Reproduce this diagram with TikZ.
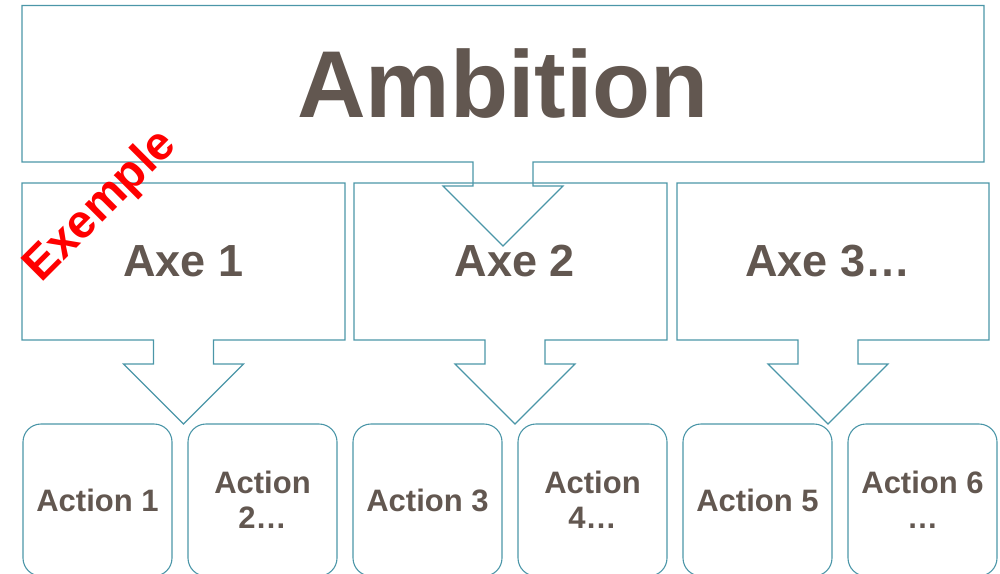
\documentclass[tikz,border=0pt]{standalone}
\usepackage{fontspec}
\setmainfont{Liberation Sans}
\usetikzlibrary{positioning,calc}
\definecolor{box-line}{RGB}{75,150,168}
\definecolor{box-text}{RGB}{98,87,80}
\tikzset{
    box-outline/.style = {draw=box-line, line width=1.1pt, line join=miter},
    ambition-box/.style = {rectangle, outer sep=0pt, minimum width=962pt, minimum height=156.5pt, text=box-text, font=\fontsize{95}{100}\selectfont\bfseries},
    axe-box/.style = {rectangle, outer sep=0pt, minimum height=157pt, text=box-text, font=\fontsize{45}{50}\selectfont\bfseries},
    action-box/.style = {draw=box-line, line width=1.1pt, rectangle, rounded corners=18pt, outer sep=0pt, minimum width=149pt, minimum height=152pt, align=center, text=box-text, font=\fontsize{31}{35}\selectfont\bfseries},
    exemple-label/.style = {text=red, rotate=45, inner sep=0pt, font=\fontsize{47}{47}\selectfont\bfseries},
}
% box outline with a block arrow below it (node, shift of the arrow)
\newcommand{\calloutoutline}[2]{%
    \draw[box-outline] (#1.north west) -- (#1.north east) -- (#1.south east)
        -- ($(#1.south)+(#2+30,0)$) -- ++(0,24) -- ++(30,0) -- ++(-60,60)
        -- ++(-60,-60) -- ++(30,0) -- ++(0,-24) -- (#1.south west) -- cycle;}

\begin{document}
\begin{tikzpicture}[x=1pt, y=-1pt]
\useasboundingbox (0,0) rectangle (1000,573);
\clip (0,0) rectangle (1000,573);

\node[ambition-box] (ambition) at (503,83.75) {Ambition};
\calloutoutline{ambition}{0}

% axes (text sits over the arrow)
\node[axe-box, minimum width=323pt] (axe1) at (183.5,261.5) {Axe 1};
\node[axe-box, minimum width=313pt, right=9pt of axe1] (axe2) {\hspace*{9pt}Axe 2};
\node[axe-box, minimum width=312pt, right=10pt of axe2] (axe3) {Axe 3…\hspace*{10pt}};
\calloutoutline{axe1}{0}
\calloutoutline{axe2}{4.5}
\calloutoutline{axe3}{-5}

% actions
\node[action-box] (act1) at (97.5,500) {Action 1};
\foreach \i/\j/\txt in {2/1/{Action\\2…}, 3/2/{Action 3}, 4/3/{Action\\4…}, 5/4/{Action 5}, 6/5/{Action 6\\…}}
    \node[action-box, right=16pt of act\j] (act\i) {\txt};

\node[exemple-label] (exemple) at (101,207) {Exemple};
\end{tikzpicture}
\end{document}
